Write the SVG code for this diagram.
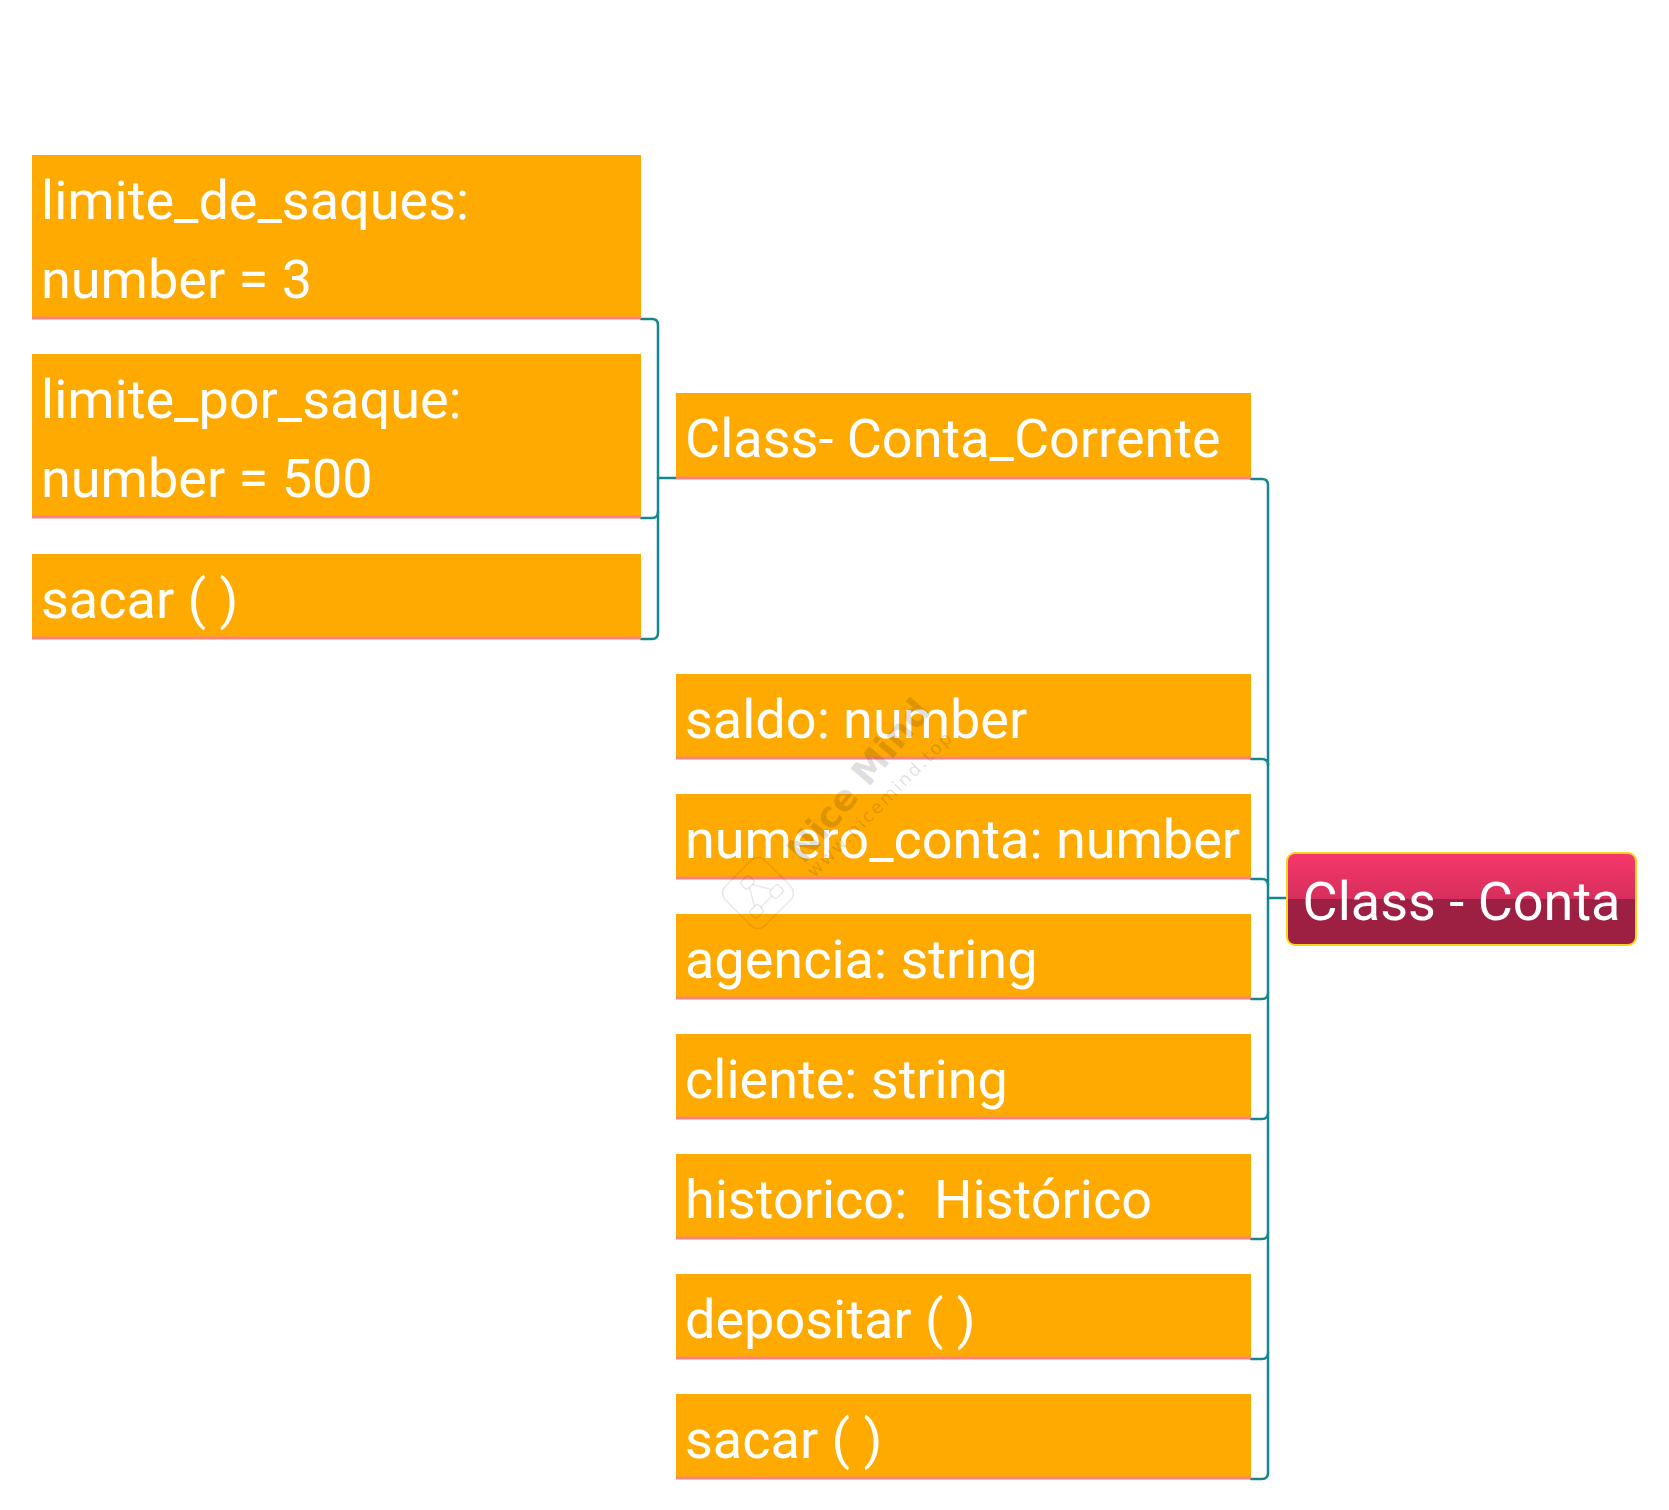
<svg xmlns="http://www.w3.org/2000/svg" width="1669" height="1510" viewBox="0 0 1669 1510">
<defs>
<linearGradient id="rootGrad" x1="0" y1="0" x2="0" y2="1">
<stop offset="0" stop-color="#F7376A"/>
<stop offset="0.5" stop-color="#D62F5D"/>
<stop offset="0.5" stop-color="#9D1F42"/>
<stop offset="1" stop-color="#9D1F42"/>
</linearGradient>
</defs>
<style>
.box{fill:#FEAA00}
.ul{stroke:#F7837A;stroke-width:3;fill:none}
.t{font-family:Roboto,"Liberation Sans",sans-serif;font-size:54px;fill:#FFFFFF}
.c{stroke:#17878E;stroke-width:2.5;fill:none;stroke-linecap:round}
.wm{font-family:"DejaVu Sans","Liberation Sans",sans-serif;fill:#000;fill-opacity:0.13}
</style>
<rect width="1669" height="1510" fill="#FFFFFF"/>

<g id="connectors">
<path class="c" d="M676 478 H658"/>
<path class="c" d="M641 319 H652 Q658 319 658 325 V633 Q658 639 652 639 H641"/>
<path class="c" d="M641 518 H652 Q658 518 658 512"/>
<path class="c" d="M1268 898 H1286"/>
<path class="c" d="M1251 479 H1262 Q1268 479 1268 485 V1473 Q1268 1479 1262 1479 H1251"/>
<path class="c" d="M1251 759 H1262 Q1268 759 1268 765"/>
<path class="c" d="M1251 879 H1262 Q1268 879 1268 885"/>
<path class="c" d="M1251 999 H1262 Q1268 999 1268 993"/>
<path class="c" d="M1251 1119 H1262 Q1268 1119 1268 1113"/>
<path class="c" d="M1251 1239 H1262 Q1268 1239 1268 1233"/>
<path class="c" d="M1251 1359 H1262 Q1268 1359 1268 1353"/>
</g>

<g id="node-limite-de-saques">
<rect class="box" x="32" y="155" width="609" height="164"/>
<path class="ul" d="M32 318 H641"/>
<text class="t" x="41" y="219">limite_de_saques:</text>
<text class="t" x="41" y="298">number = 3</text>
</g>
<g id="node-limite-por-saque">
<rect class="box" x="32" y="354" width="609" height="164"/>
<path class="ul" d="M32 517 H641"/>
<text class="t" x="41" y="418">limite_por_saque:</text>
<text class="t" x="41" y="497">number = 500</text>
</g>
<g id="node-sacar-cc">
<rect class="box" x="32" y="554" width="609" height="85"/>
<path class="ul" d="M32 638 H641"/>
<text class="t" x="41" y="618">sacar ( )</text>
</g>

<g id="node-conta-corrente">
<rect class="box" x="676" y="393" width="575" height="86"/>
<path class="ul" d="M676 478 H1251"/>
<text class="t" x="685" y="457">Class- Conta_Corrente</text>
</g>

<g id="node-saldo">
<rect class="box" x="676" y="674" width="575" height="85"/>
<path class="ul" d="M676 758 H1251"/>
<text class="t" x="685" y="738">saldo: number</text>
</g>
<g id="node-numero-conta">
<rect class="box" x="676" y="794" width="575" height="85"/>
<path class="ul" d="M676 878 H1251"/>
<text class="t" x="685" y="858">numero_conta: number</text>
</g>
<g id="node-agencia">
<rect class="box" x="676" y="914" width="575" height="85"/>
<path class="ul" d="M676 998 H1251"/>
<text class="t" x="685" y="978">agencia: string</text>
</g>
<g id="node-cliente">
<rect class="box" x="676" y="1034" width="575" height="85"/>
<path class="ul" d="M676 1118 H1251"/>
<text class="t" x="685" y="1098">cliente: string</text>
</g>
<g id="node-historico">
<rect class="box" x="676" y="1154" width="575" height="85"/>
<path class="ul" d="M676 1238 H1251"/>
<text class="t" x="685" y="1218" xml:space="preserve">historico:  Histórico</text>
</g>
<g id="node-depositar">
<rect class="box" x="676" y="1274" width="575" height="85"/>
<path class="ul" d="M676 1358 H1251"/>
<text class="t" x="685" y="1338">depositar ( )</text>
</g>
<g id="node-sacar">
<rect class="box" x="676" y="1394" width="575" height="85"/>
<path class="ul" d="M676 1478 H1251"/>
<text class="t" x="685" y="1458">sacar ( )</text>
</g>

<g id="node-conta">
<rect x="1287" y="853" width="349" height="92" rx="8" ry="8" fill="url(#rootGrad)" stroke="#FFD21F" stroke-width="2"/>
<text class="t" x="1461.5" y="920" text-anchor="middle">Class - Conta</text>
</g>

<g id="watermark">
<g transform="rotate(-45 758 893)">
<rect x="730" y="865" width="56" height="56" rx="10" fill="none" stroke="#000" stroke-opacity="0.09" stroke-width="1.5"/>
<g fill="none" stroke="#000" stroke-opacity="0.09" stroke-width="1.5">
<rect x="752" y="873" width="12" height="10" rx="3"/>
<rect x="738" y="900" width="12" height="10" rx="3"/>
<rect x="766" y="900" width="12" height="10" rx="3"/>
<path d="M756 883 L746 900 M760 883 L770 900 M750 905 H766"/>
</g>
</g>
<text class="wm" x="858" y="793" font-size="36" font-weight="bold" text-anchor="middle" transform="rotate(-50 858 780)">Nice Mind</text>
<text class="wm" x="880" y="810" font-size="18" text-anchor="middle" letter-spacing="2" transform="rotate(-45 880 804)">www.nicemind.top</text>
</g>
</svg>
